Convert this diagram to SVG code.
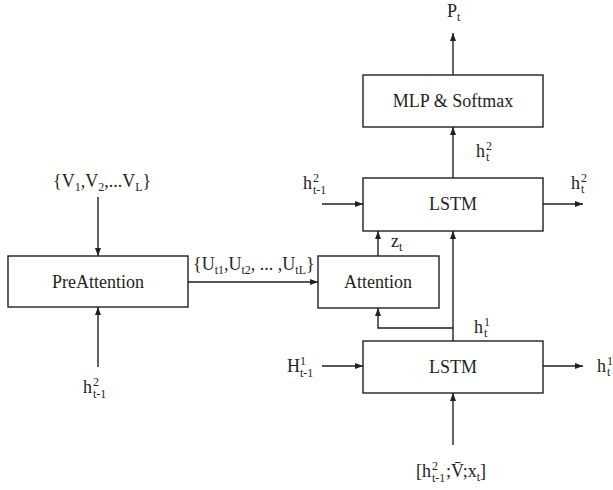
<svg xmlns="http://www.w3.org/2000/svg" width="613" height="490" viewBox="0 0 613 490">
<style>
.box{fill:#fff;stroke:#231f20;stroke-width:1.4}
.ln{fill:none;stroke:#231f20;stroke-width:1.4}
text{font-family:"Liberation Serif","Times New Roman",serif;fill:#231f20;font-size:18px}
.c{text-anchor:middle}
.s{font-size:12px}
</style>
<defs>
<marker id="ah" viewBox="0 0 8 6" refX="8" refY="3" markerWidth="8" markerHeight="6" markerUnits="userSpaceOnUse" orient="auto">
<path d="M0,0 L8,3 L0,6 Z" fill="#231f20"/>
</marker>
</defs>
<rect width="613" height="490" fill="#fff"/>
<g id="connectors">
<line class="ln" x1="453" y1="75" x2="453" y2="33" marker-end="url(#ah)"/>
<line class="ln" x1="453" y1="178" x2="453" y2="127" marker-end="url(#ah)"/>
<line class="ln" x1="322" y1="204" x2="363" y2="204" marker-end="url(#ah)"/>
<line class="ln" x1="543" y1="204" x2="583" y2="204" marker-end="url(#ah)"/>
<line class="ln" x1="378" y1="256" x2="378" y2="231" marker-end="url(#ah)"/>
<line class="ln" x1="453" y1="341" x2="453" y2="231" marker-end="url(#ah)"/>
<polyline class="ln" points="453,328 378,328 378,308" marker-end="url(#ah)"/>
<line class="ln" x1="322" y1="366" x2="363" y2="366" marker-end="url(#ah)"/>
<line class="ln" x1="543" y1="366" x2="583" y2="366" marker-end="url(#ah)"/>
<line class="ln" x1="453" y1="445" x2="453" y2="393" marker-end="url(#ah)"/>
<line class="ln" x1="98" y1="197" x2="98" y2="256" marker-end="url(#ah)"/>
<line class="ln" x1="98" y1="367" x2="98" y2="307" marker-end="url(#ah)"/>
<line class="ln" x1="188" y1="282" x2="318" y2="282" marker-end="url(#ah)"/>
</g>
<g id="mlp">
<rect class="box" x="363" y="75" width="180" height="52"/>
<text class="c" x="453" y="107">MLP &amp; Softmax</text>
</g>
<g id="lstm2">
<rect class="box" x="363" y="178" width="180" height="53"/>
<text class="c" x="453" y="210">LSTM</text>
</g>
<g id="attention">
<rect class="box" x="318" y="256" width="121" height="52"/>
<text class="c" x="378" y="288">Attention</text>
</g>
<g id="lstm1">
<rect class="box" x="363" y="341" width="180" height="52"/>
<text class="c" x="453" y="373">LSTM</text>
</g>
<g id="preattention">
<rect class="box" x="8" y="256" width="180" height="51"/>
<text class="c" x="98" y="288">PreAttention</text>
</g>
<g id="labels">
<text x="447" y="17">P<tspan class="s" dy="4">t</tspan></text>
<text x="476" y="157">h<tspan class="s" x="486" y="150">2</tspan><tspan class="s" x="486" y="161">t</tspan></text>
<text x="303" y="189">h<tspan class="s" x="313" y="182">2</tspan><tspan class="s" x="313" y="194">t-1</tspan></text>
<text x="571" y="189">h<tspan class="s" x="581" y="182">2</tspan><tspan class="s" x="581" y="193">t</tspan></text>
<text x="391" y="247">z<tspan class="s" dy="4">t</tspan></text>
<text x="474" y="333">h<tspan class="s" x="484" y="326">1</tspan><tspan class="s" x="484" y="337">t</tspan></text>
<text x="287" y="372">H<tspan class="s" x="300" y="365">1</tspan><tspan class="s" x="300" y="377">t-1</tspan></text>
<text x="597" y="372">h<tspan class="s" x="607" y="365">1</tspan><tspan class="s" x="607" y="376">t</tspan></text>
<text x="416" y="477">[h<tspan class="s" x="432" y="470">2</tspan><tspan class="s" x="432" y="482">t-1</tspan><tspan x="446" y="477">;V̄;x</tspan><tspan class="s" dy="4">t</tspan><tspan dy="-4">]</tspan></text>
<text x="83" y="393">h<tspan class="s" x="93" y="386">2</tspan><tspan class="s" x="93" y="398">t-1</tspan></text>
<text x="53" y="187">{V<tspan class="s" dy="4">1</tspan><tspan dy="-4">,V</tspan><tspan class="s" dy="4">2</tspan><tspan dy="-4">,...V</tspan><tspan class="s" dy="4">L</tspan><tspan dy="-4">}</tspan></text>
<text x="193" y="270">{U<tspan class="s" dy="4">t1</tspan><tspan dy="-4">,U</tspan><tspan class="s" dy="4">t2</tspan><tspan dy="-4">, ... ,U</tspan><tspan class="s" dy="4">tL</tspan><tspan dy="-4">}</tspan></text>
</g>
</svg>
